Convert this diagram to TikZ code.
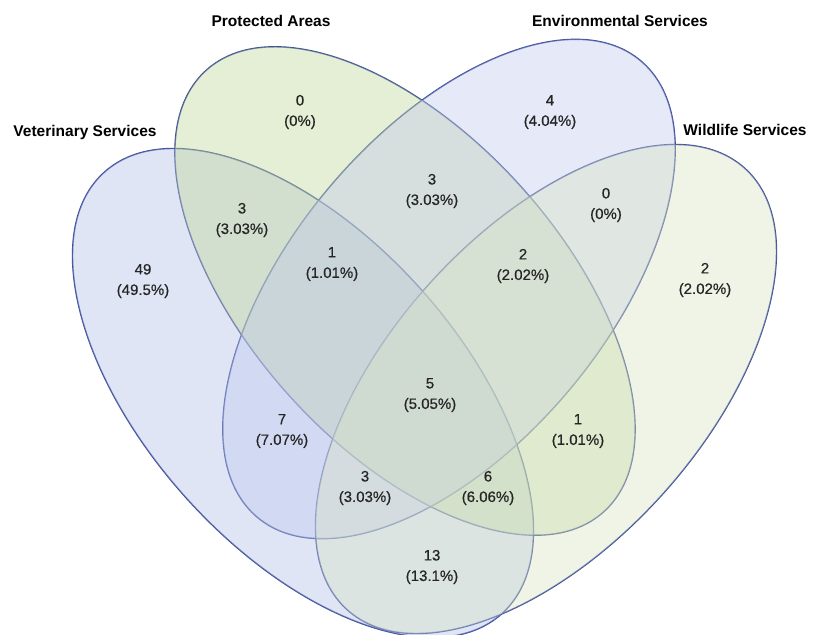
\documentclass[tikz,border=0pt]{standalone}
\usepackage{fontspec}
\setmainfont{Liberation Sans}
\newfontfamily\numfont[FakeBold=0.6]{Liberation Sans}
\definecolor{ringc}{HTML}{3A4A96}
\definecolor{vetc}{HTML}{AFBEE6}
\definecolor{proc}{HTML}{BED796}
\definecolor{envc}{HTML}{C0C8ED}
\definecolor{wilc}{HTML}{D7E3C3}
\begin{document}
\begin{tikzpicture}[x=1pt,y=-1pt,
  title/.style={font=\fontsize{15.5}{18}\selectfont\bfseries, inner sep=0pt, anchor=base},
  num/.style={font=\numfont\fontsize{15}{20.5}\selectfont, align=center, inner sep=0pt, text=black!85},
  ring/.style={draw=ringc, line width=1.4pt},
  fillset/.style={fill opacity=0.4}
]
\useasboundingbox (0,0) rectangle (813,634);
\coordinate (cV) at (303,393);
\coordinate (cP) at (405,291);
\coordinate (cE) at (449,289);
\coordinate (cW) at (546,389);
\begin{scope}
\clip (0,0) rectangle (813,634);
% outlines (beneath the translucent fills)
\path[ring, rotate around={-48:(cV)}] (cV) ellipse [x radius=297, y radius=157];
\path[ring, rotate around={-48:(cP)}] (cP) ellipse [x radius=297, y radius=156];
\path[ring, rotate around={50:(cE)}] (cE) ellipse [x radius=298, y radius=157];
\path[ring, rotate around={48:(cW)}] (cW) ellipse [x radius=297, y radius=157];
% fills
\fill[vetc, fillset, rotate around={-48:(cV)}] (cV) ellipse [x radius=297, y radius=157];
\fill[proc, fillset, rotate around={-48:(cP)}] (cP) ellipse [x radius=297, y radius=156];
\fill[envc, fillset, rotate around={50:(cE)}] (cE) ellipse [x radius=298, y radius=157];
\fill[wilc, fillset, rotate around={48:(cW)}] (cW) ellipse [x radius=297, y radius=157];
\end{scope}
% set titles
\node[title] (tP) at (271,26.5) {Protected Areas};
\node[title] (tE) at (620,26.5) {Environmental Services};
\node[title] (tV) at (85,136) {Veterinary Services};
\node[title] (tW) at (745,135) {Wildlife Services};
% region counts
\node[num] (rP)   at (300,112) {0\\(0\%)};
\node[num] (rE)   at (550,112) {4\\(4.04\%)};
\node[num] (rVP)  at (242,220) {3\\(3.03\%)};
\node[num] (rPE)  at (432,191) {3\\(3.03\%)};
\node[num] (rEW)  at (606,205) {0\\(0\%)};
\node[num] (rV)   at (143,281) {49\\(49.5\%)};
\node[num] (rVPE) at (332,264) {1\\(1.01\%)};
\node[num] (rPEW) at (523,266) {2\\(2.02\%)};
\node[num] (rW)   at (705,280) {2\\(2.02\%)};
\node[num] (rAll) at (430,395) {5\\(5.05\%)};
\node[num] (rVE)  at (282,431) {7\\(7.07\%)};
\node[num] (rPW)  at (578,431) {1\\(1.01\%)};
\node[num] (rVEW) at (365,488) {3\\(3.03\%)};
\node[num] (rVPW) at (488,488) {6\\(6.06\%)};
\node[num] (rVW)  at (432,567) {13\\(13.1\%)};
\end{tikzpicture}
\end{document}
